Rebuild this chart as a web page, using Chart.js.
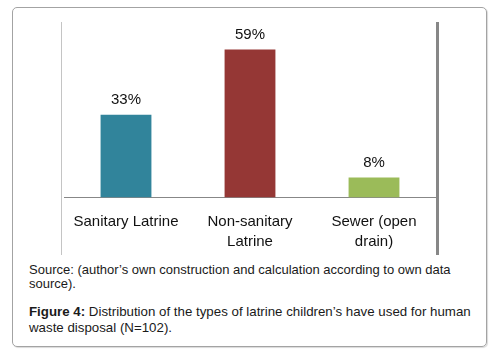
<!DOCTYPE html>
<html>
<head>
<meta charset="utf-8">
<script src="https://cdn.jsdelivr.net/npm/chart.js@4"></script>
<style>
    html, body {
        margin: 0;
        padding: 0;
        background: #fff;
        width: 498px;
        height: 356px;
        overflow: hidden;
        font-family: "Liberation Sans", Arial, sans-serif;
        color: #1a1a1a;
    }
    .frame {
        position: absolute;
        left: 12px;
        top: 7px;
        width: 473px;
        height: 338px;
        border: 1px solid #a3a3a3;
        border-radius: 5px;
        box-shadow: 1px 1px 1px rgba(0, 0, 0, 0.15);
    }
    .chart-box {
        position: absolute;
        left: 61px;
        top: 22px;
        width: 374px;
        height: 233px;
        border-left: 1px solid #c4c4c4;
        border-right: 3px solid #878787;
    }
    .source {
        position: absolute;
        left: 29px;
        top: 263px;
        width: 451px;
        font-size: 13px;
        line-height: 14px;
    }
    .caption {
        position: absolute;
        left: 29px;
        top: 304px;
        width: 451px;
        font-size: 13.3px;
        line-height: 16px;
    }
</style>
</head>
<body>
<div class="frame"></div>
<div class="chart-box"><canvas id="chart"></canvas></div>
<div class="source">Source: (author’s own construction and calculation according to own data source).</div>
<div class="caption"><b>Figure 4:</b> Distribution of the types of latrine children’s have used for human waste disposal (N=102).</div>
<script>
const categories = ['Sanitary Latrine', ['Non-sanitary', 'Latrine'], ['Sewer (open', 'drain)']];
const shares = [33, 59, 8];
const barColors = ['#31849b', '#953735', '#9bbb59'];
const yTicks = { min: 0, max: 70 };

const fontFamily = '"Liberation Sans", Arial, sans-serif';

// draws the "33%" style labels above each bar
const valueLabels = {
    id: 'valueLabels',
    afterDatasetsDraw(chart) {
        const ctx = chart.ctx;
        const meta = chart.getDatasetMeta(0);
        ctx.save();
        ctx.font = `15px ${fontFamily}`;
        ctx.fillStyle = '#111';
        ctx.textAlign = 'center';
        ctx.textBaseline = 'middle';
        meta.data.forEach((bar, i) => {
            ctx.fillText(`${shares[i]}%`, bar.x, bar.y - 15);
        });
        ctx.restore();
    }
};

const ctx = document.getElementById('chart');
ctx.width = 374;
ctx.height = 233;

new Chart(ctx, {
    type: 'bar',
    data: {
        labels: categories,
        datasets: [{
            data: shares,
            backgroundColor: barColors,
            categoryPercentage: 1,
            barPercentage: 0.41,
        }]
    },
    options: {
        responsive: false,
        animation: false,
        devicePixelRatio: 1,
        layout: {
            padding: { top: 0, left: 2, right: 0, bottom: 0 }
        },
        scales: {
            y: {
                display: false,
                min: yTicks.min,
                max: yTicks.max,
            },
            x: {
                afterFit(scale) {
                    scale.height = 57.5;
                    // labels fit inside their categories, no extra side padding
                    scale.paddingLeft = 0;
                    scale.paddingRight = 0;
                },
                grid: {
                    display: false,
                    drawTicks: false,
                },
                border: {
                    display: true,
                    color: '#878787',
                    width: 1,
                },
                ticks: {
                    color: '#111',
                    padding: 14,
                    maxRotation: 0,
                    autoSkip: false,
                    font: {
                        family: fontFamily,
                        size: 15,
                        lineHeight: 1.333,
                    }
                }
            }
        },
        plugins: {
            legend: { display: false },
            tooltip: { enabled: false }
        }
    },
    plugins: [valueLabels]
});
</script>
</body>
</html>
